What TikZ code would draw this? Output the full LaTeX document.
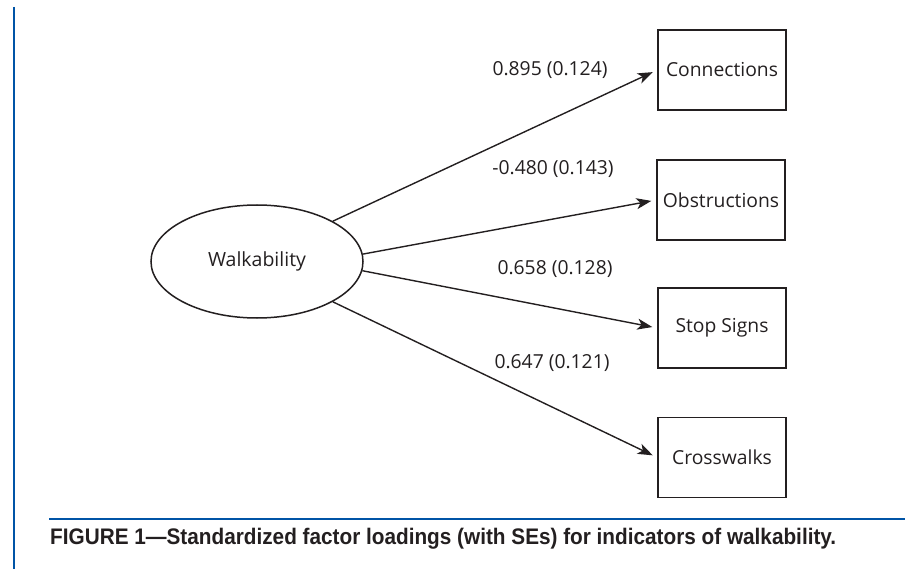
\documentclass[tikz,border=0pt]{standalone}
\usepackage{fontspec}
\setmainfont{Open Sans}
\newfontfamily\capfont{Liberation Sans}
\usetikzlibrary{arrows.meta,shapes.geometric}
\definecolor{rulblue}{RGB}{0,84,166}
\definecolor{ink}{RGB}{35,31,32}
\tikzset{
  ind/.style={draw=ink,line width=1.5pt,rectangle,minimum width=128pt,minimum height=80pt,inner sep=0pt,font=\fontsize{19.3}{21}\selectfont,text=ink},
  lat/.style={draw=ink,line width=1.5pt,ellipse,minimum width=212pt,minimum height=113pt,inner sep=0pt,font=\fontsize{19.5}{21}\selectfont,text=ink},
  arr/.style={draw=ink,line width=1.4pt,-{Stealth[length=15pt,width=11pt,inset=4pt]},shorten >=5pt},
  lbl/.style={anchor=base,inner sep=0pt,font=\fontsize{19.3}{21}\selectfont,text=ink}
}
\begin{document}
\begin{tikzpicture}[x=1pt,y=-1pt]
\useasboundingbox (0,0) rectangle (923,569);
\draw[rulblue,line width=2.2pt] (14,7) -- (14,569);
\draw[rulblue,line width=1.2pt] (49,519) -- (905,519);
\node[anchor=base west,inner sep=0pt,text=ink] (cap) at (50,544) {\resizebox{786pt}{\height}{\capfont\bfseries\fontsize{22.5}{25}\selectfont FIGURE 1—Standardized factor loadings (with SEs) for indicators of walkability.}};
\node[lat] (w) at (257,261.5) {Walkability};
\node[ind] (c1) at (722,70) {Connections};
\node[ind] (c2) at (721,200) {Obstructions};
\node[ind] (c3) at (722,328) {Stop Signs};
\node[ind] (c4) at (722,457.5) {Crosswalks};
\draw[arr] (w.28.4) -- (c1.west);
\draw[arr] (w.4.6) -- (c2.west);
\draw[arr] (w.-5.7) -- (c3.west);
\draw[arr] (w.-28) -- (c4.west);
\node[lbl] (l1) at (550,76) {0.895 (0.124)};
\node[lbl] (l2) at (553,175) {-0.480 (0.143)};
\node[lbl] (l3) at (555,275) {0.658 (0.128)};
\node[lbl] (l4) at (552,368) {0.647 (0.121)};
\end{tikzpicture}
\end{document}
